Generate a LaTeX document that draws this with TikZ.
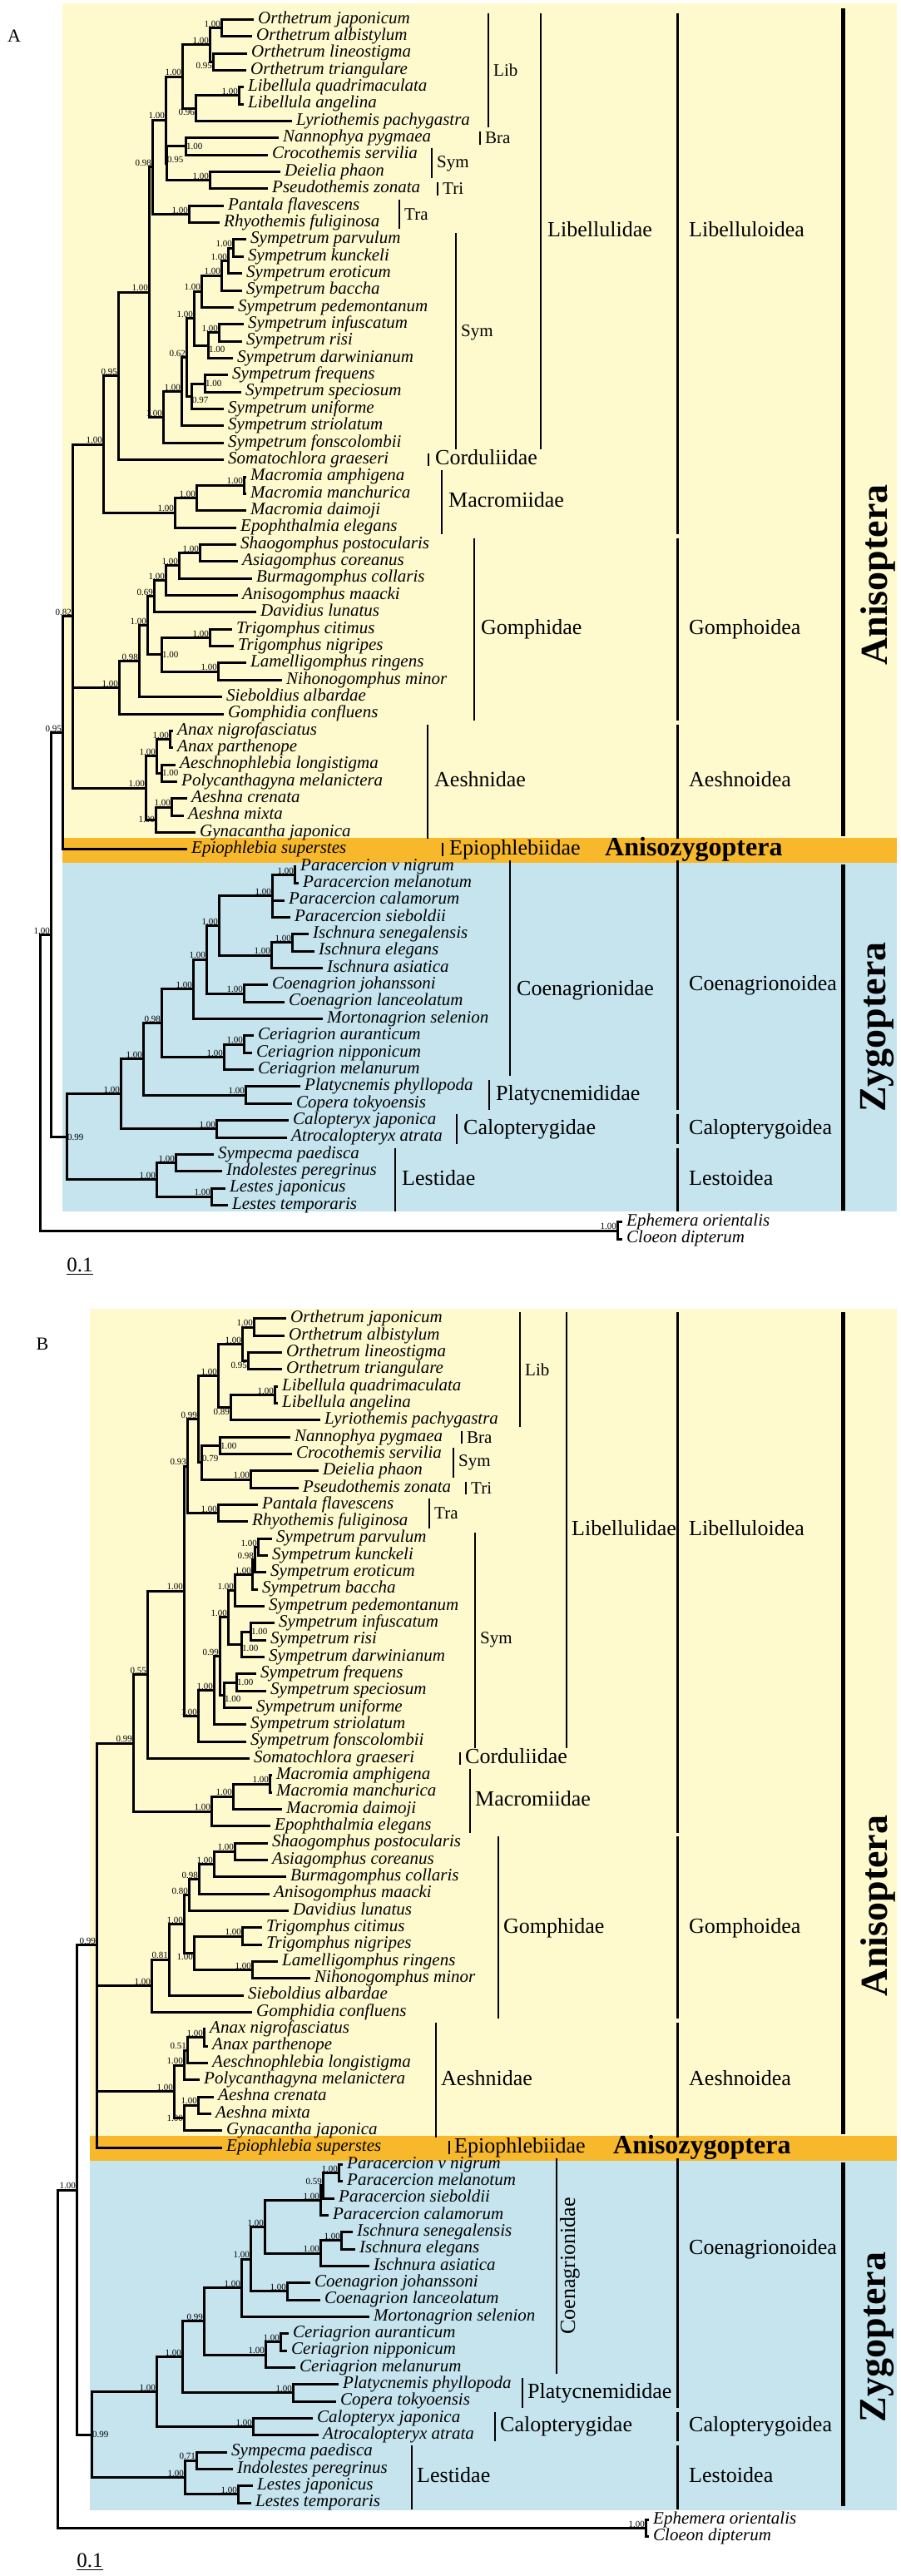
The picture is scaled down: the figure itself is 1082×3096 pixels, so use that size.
\documentclass[tikz,border=0pt]{standalone}
\usepackage{fontspec}
\setmainfont{Liberation Serif}
\definecolor{cream}{RGB}{255,250,206}
\definecolor{amber}{RGB}{247,184,44}
\definecolor{skyblue}{RGB}{197,228,238}
\tikzset{branch/.style = {line width = 3pt}}
\tikzset{taxon/.style = {anchor = west, inner xsep = 5pt, inner ysep = 0pt,
                         font = \fontsize{21}{21}\selectfont\itshape,
                         text height = 14pt, text depth = 4.5pt}}
\tikzset{prob/.style = {inner sep = 1pt, font = \fontsize{11}{11}\selectfont}}
\tikzset{fam/.style = {anchor = west, inner sep = 0pt, font = \fontsize{26}{26}\selectfont,
                       text height = 18pt, text depth = 5.5pt}}
\tikzset{sub/.style = {anchor = west, inner sep = 0pt, font = \fontsize{21}{21}\selectfont}}
\tikzset{famline/.style = {line width = 2pt}}
\tikzset{supline/.style = {line width = 3pt}}
\tikzset{bigline/.style = {line width = 5pt}}
\tikzset{big/.style = {rotate = 90, anchor = north, inner sep = 0pt,
                       font = \fontsize{46}{46}\selectfont\bfseries}}
\tikzset{bandtext/.style = {anchor = west, inner sep = 0pt,
                            font = \fontsize{32}{32}\selectfont\bfseries}}
\newcommand{\commonedges}{oj/1, oj/2, ol/3, ol/4, or/oj, or/ol, ll/5, ll/6, ly/ll, ly/7,
  lb/or, lb/ly, nc/8, nc/9, dp/10, dp/11, bs/nc, bs/dp, lt/lb, lt/bs, tr/12, tr/13,
  ld/lt, ld/tr, pk/14, pk/15, pe/pk, pe/16, pb/pe, pb/17, pp/pb, pp/18, ir/19, ir/20,
  id/ir, id/21, up/pp, up/id, fs/22, fs/23, fu/fs, fu/24, sx/up, sx/fu, st/sx, st/25,
  fo/st, fo/26, li/ld, li/fo, co/li, co/27, mm/28, mm/29, md/mm, md/30, ma/md, ma/31,
  ls/co, ls/ma, sa/32, sa/33, sb/sa, sb/34, sc/sb, sc/35, sd/sc, sd/36, tt/37, tt/38,
  lm/39, lm/40, tl/tt, tl/lm, ga/sd, ga/tl, gb/ga, gb/41, gp/gb, gp/42, ax/43, ax/44,
  am/47, am/48, ag/am, ag/49, vm/51, vm/52, is/55, is/56, ia/is, ia/57, pi/pa, pi/ia,
  cj/58, cj/59, pj/pi, pj/cj, pq/pj, pq/60, ca/61, ca/62, ce/ca, ce/63, cn/pq, cn/ce,
  pl/64, pl/65, cp/cn, cp/pl, cl/66, cl/67, cc/cp, cc/cl, si/68, si/69, lj/70, lj/71,
  le/si, le/lj, zy/cc, zy/le, og/72, og/73, rt/in, rt/og}

\begin{document}
\begin{tikzpicture}[x = 1pt, y = -1pt]
    \useasboundingbox (0, 0) rectangle (1082, 3096);

    \node [font = \fontsize{22}{22}\selectfont] (labelA) at (17, 43) {A};
    \node [font = \fontsize{22}{22}\selectfont] (labelB) at (51, 1615) {B};

    \begin{scope}[yshift = -2.94pt, y = -20.36pt]
      \fill [cream] (75, 0.05) rectangle (1078, 49.3);
      \fill [amber] (75, 49.3) rectangle (1078, 50.8);
      \fill [skyblue] (75, 50.8) rectangle (1078, 71.37);

      \foreach \r/\x/\t in {1/305/Orthetrum japonicum, 2/303/Orthetrum albistylum,
          3/297/Orthetrum lineostigma, 4/296/Orthetrum triangulare,
          5/293/Libellula quadrimaculata, 6/293/Libellula angelina,
          7/351/Lyriothemis pachygastra, 8/335/Nannophya pygmaea,
          9/322/Crocothemis servilia, 10/337/Deielia phaon, 11/322/Pseudothemis zonata,
          12/269/Pantala flavescens, 13/264/Rhyothemis fuliginosa,
          14/296/Sympetrum parvulum, 15/293/Sympetrum kunckeli, 16/291/Sympetrum eroticum,
          17/291/Sympetrum baccha, 18/281/Sympetrum pedemontanum,
          19/293/Sympetrum infuscatum, 20/291/Sympetrum risi, 21/280/Sympetrum darwinianum,
          22/274/Sympetrum frequens, 23/290/Sympetrum speciosum, 24/269/Sympetrum uniforme,
          25/269/Sympetrum striolatum, 26/269/Sympetrum fonscolombii,
          27/269/Somatochlora graeseri, 28/296/Macromia amphigena,
          29/296/Macromia manchurica, 30/296/Macromia daimoji, 31/284/Epophthalmia elegans,
          32/284/Shaogomphus postocularis, 33/286/Asiagomphus coreanus,
          34/303/Burmagomphus collaris, 35/286/Anisogomphus maacki, 36/308/Davidius lunatus,
          37/279/Trigomphus citimus, 38/281/Trigomphus nigripes,
          39/296/Lamelligomphus ringens, 40/339/Nihonogomphus minor,
          41/267/Sieboldius albardae, 42/269/Gomphidia confluens,
          43/208/Anax nigrofasciatus, 44/208/Anax parthenope,
          45/211/Aeschnophlebia longistigma, 46/213/Polycanthagyna melanictera,
          47/225/Aeshna crenata, 48/221/Aeshna mixta, 49/235/Gynacantha japonica,
          50/225/Epiophlebia superstes, 51/356/Paracercion v nigrum,
          52/359/Paracercion melanotum, 53/342/Paracercion calamorum,
          54/349/Paracercion sieboldii, 55/371/Ischnura senegalensis,
          56/378/Ischnura elegans, 57/388/Ischnura asiatica, 58/322/Coenagrion johanssoni,
          59/342/Coenagrion lanceolatum, 60/388/Mortonagrion selenion,
          61/305/Ceriagrion auranticum, 62/303/Ceriagrion nipponicum,
          63/305/Ceriagrion melanurum, 64/361/Platycnemis phyllopoda,
          65/351/Copera tokyoensis, 66/347/Calopteryx japonica,
          67/345/Atrocalopteryx atrata, 68/257/Sympecma paedisca,
          69/267/Indolestes peregrinus, 70/271/Lestes japonicus, 71/274/Lestes temporaris,
          72/748/Ephemera orientalis, 73/748/Cloeon dipterum}
        \node [taxon] (a\r) at (\x, \r) {\t};

      \foreach \n/\x/\r/\v/\an in {oj/266/1.5/1.00/south east, ol/256/3.5/0.95/north east,
          or/252/2.5/1.00/south east, ll/287/5.5/1.00/south east,
          ly/235/6.25/0.96/north east, lb/219/4.375/1.00/south east,
          nc/223/8.5/1.00/west, dp/252/10.5/1.00/south east, bs/200/9.5/0.95/south west,
          lt/199/6.9375/1.00/south east, tr/227/12.5/1.00/south east,
          ld/183/9.71875/0.98/south east, pk/280/14.5/1.00/south east,
          pe/274/15.25/1.00/south east, pb/266/16.125/1.00/south east,
          pp/242/17.0625/1.00/south east, ir/263/19.5/1.00/south east,
          id/250/20.25/1.00/north west, up/233/18.65625/1.00/south east,
          fs/246/22.5/1.00/west, fu/230/23.25/0.97/north west,
          sx/224/20.953/0.62/south east, st/218/22.977/1.00/south east,
          fo/196/24.488/1.00/south east, li/179/17.104/1.00/south east,
          co/142/22.052/0.95/south east, mm/293/28.5/1.00/south east,
          md/236/29.25/1.00/south east, ma/210/30.125/1.00/south east,
          ls/124/26.089/1.00/south east, sa/240/32.5/1.00/south east,
          sb/215/33.25/1.00/south east, sc/199/34.125/1.00/south east,
          sd/185/35.0625/0.69/south east, tt/252/37.5/1.00/south east,
          lm/262/39.5/1.00/south east, tl/194/38.5/1.00/west,
          ga/177/36.781/1.00/south east, gb/167/38.891/0.98/south east,
          gp/143/40.445/1.00/south east, ax/204/43.5/1.00/south east,
          ap/194/45.5/1.00/west, aa/188/44.5/1.00/south east,
          am/206/47.5/1.00/south east, ag/187/48.25/1.00/east,
          ae/175/46.375/1.00/south east, an/87/36.232/0.82/south east,
          az/75/43.116/0.95/south east, vm/354/51.5/1.00/south east,
          pa/327/52.75/1.00/south east, is/351/55.5/1.00/south east,
          ia/326/56.25/1.00/south east, pi/263/54.5/1.00/south east,
          cj/293/58.5/1.00/south east, pj/248/56.5/1.00/south east,
          pq/232/58.25/1.00/south east, ca/293/61.5/1.00/south east,
          ce/269/62.25/1.00/south east, cn/194/60.25/0.98/south east,
          pl/295/64.5/1.00/south east, cp/172/62.375/1.00/south east,
          cl/260/66.5/1.00/south east, cc/145/64.4375/1.00/south east,
          si/211/68.5/1.00/south east, lj/254/70.5/1.00/south east,
          le/188/69.5/1.00/south east, zy/80/66.969/0.99/west,
          in/61/55.04/1.00/south east, og/742/72.5/1.00/south east}
        {
          \coordinate (a\n) at (\x, \r);
          \node [prob, anchor = \an] (la\n) at (a\n) {\v};
        }
      \coordinate (art) at (48, 63.77);

      \foreach \p/\c in \commonedges
        \draw [branch] (a\p) |- (a\c);
      \foreach \p/\c in {ap/45, ap/46, aa/ax, aa/ap, ae/aa, ae/ag, an/ls, an/gp, an/ae,
          az/an, az/50, pa/vm, pa/53, pa/54, in/az, in/zy}
        \draw [branch] (a\p) |- (a\c);

      \foreach \x/\ra/\rb/\rt/\t [count = \i] in {587/1/7/4/Lib, 577/8/8/8/Bra,
          519/9/10/9.5/Sym, 526/11/11/11/Tri, 480/12/13/12.5/Tra, 548/14/26/19.5/Sym}
        {
          \draw [famline] (\x, \ra - 0.38) -- (\x, \rb + 0.38);
          \node [sub] (subA\i) at (\x + 6, \rt) {\t};
        }
      \foreach \x/\ra/\rb/\rt/\t [count = \i] in {650/1/26/13.5/Libellulidae,
          515/27/27/27/Corduliidae, 531/28/31/29.5/Macromiidae, 570/32/42/37/Gomphidae,
          514/43/49/46/Aeshnidae, 532/50/50/50/Epiophlebiidae,
          613/51/63/58.3/Coenagrionidae, 588/64/65/64.5/Platycnemididae,
          549/66/67/66.5/Calopterygidae, 475/68/71/69.5/Lestidae}
        {
          \draw [famline] (\x, \ra - 0.38) -- (\x, \rb + 0.38);
          \node [fam] (famA\i) at (\x + 8, \rt) {\t};
        }
      \foreach \ra/\rb/\rt/\t [count = \i] in {1/31/13.5/Libelluloidea,
          32/42/37/Gomphoidea, 43/49/46/Aeshnoidea, 51/65/58/Coenagrionoidea,
          66/67/66.5/Calopterygoidea, 68/71/69.5/Lestoidea}
        {
          \draw [supline] (814, \ra - 0.38) -- (814, \rb + 0.38);
          \node [fam] (supA\i) at (828, \rt) {\t};
        }

      \draw [bigline] (1013, 0.35) -- (1013, 49.2);
      \draw [bigline] (1013, 50.9) -- (1013, 71.3);
      \node [big] (anisA) at (1034, 33.8) {Anisoptera};
      \node [big] (zygA) at (1034, 60.5) {Zygoptera};
      \node [bandtext] (azA) at (727, 50) {Anisozygoptera};
    \end{scope}

    \node [font = \fontsize{25}{25}\selectfont, inner sep = 0pt] (scaleA) at (96, 1520) {0.1};
    \draw [line width = 1.5pt] ([yshift = -3pt]scaleA.south west) -- ([yshift = -3pt]scaleA.south east);

    \begin{scope}[yshift = -1564.6pt, y = -20.33pt]
      \fill [cream] (108, 0.41) rectangle (1078, 49.3);
      \fill [amber] (108, 49.3) rectangle (1078, 50.8);
      \fill [skyblue] (108, 50.8) rectangle (1078, 71.45);

      \foreach \r/\x/\t in {1/344/Orthetrum japonicum, 2/342/Orthetrum albistylum,
          3/339/Orthetrum lineostigma, 4/339/Orthetrum triangulare,
          5/334/Libellula quadrimaculata, 6/334/Libellula angelina,
          7/385/Lyriothemis pachygastra, 8/349/Nannophya pygmaea,
          9/351/Crocothemis servilia, 10/383/Deielia phaon, 11/359/Pseudothemis zonata,
          12/310/Pantala flavescens, 13/298/Rhyothemis fuliginosa,
          14/327/Sympetrum parvulum, 15/322/Sympetrum kunckeli, 16/320/Sympetrum eroticum,
          17/310/Sympetrum baccha, 18/318/Sympetrum pedemontanum,
          19/330/Sympetrum infuscatum, 20/320/Sympetrum risi, 21/318/Sympetrum darwinianum,
          22/308/Sympetrum frequens, 23/320/Sympetrum speciosum, 24/303/Sympetrum uniforme,
          25/296/Sympetrum striolatum, 26/296/Sympetrum fonscolombii,
          27/300/Somatochlora graeseri, 28/327/Macromia amphigena,
          29/327/Macromia manchurica, 30/339/Macromia daimoji, 31/325/Epophthalmia elegans,
          32/322/Shaogomphus postocularis, 33/322/Asiagomphus coreanus,
          34/344/Burmagomphus collaris, 35/324/Anisogomphus maacki, 36/347/Davidius lunatus,
          37/315/Trigomphus citimus, 38/315/Trigomphus nigripes,
          39/334/Lamelligomphus ringens, 40/373/Nihonogomphus minor,
          41/293/Sieboldius albardae, 42/303/Gomphidia confluens,
          43/247/Anax nigrofasciatus, 44/250/Anax parthenope,
          45/250/Aeschnophlebia longistigma, 46/240/Polycanthagyna melanictera,
          47/257/Aeshna crenata, 48/254/Aeshna mixta, 49/267/Gynacantha japonica,
          50/267/Epiophlebia superstes, 51/412/Paracercion v nigrum,
          52/412/Paracercion melanotum, 53/402/Paracercion sieboldii,
          54/395/Paracercion calamorum, 55/424/Ischnura senegalensis,
          56/427/Ischnura elegans, 57/444/Ischnura asiatica, 58/373/Coenagrion johanssoni,
          59/385/Coenagrion lanceolatum, 60/444/Mortonagrion selenion,
          61/347/Ceriagrion auranticum, 62/345/Ceriagrion nipponicum,
          63/355/Ceriagrion melanurum, 64/407/Platycnemis phyllopoda,
          65/404/Copera tokyoensis, 66/376/Calopteryx japonica,
          67/383/Atrocalopteryx atrata, 68/273/Sympecma paedisca,
          69/280/Indolestes peregrinus, 70/304/Lestes japonicus, 71/302/Lestes temporaris,
          72/780/Ephemera orientalis, 73/780/Cloeon dipterum}
        \node [taxon] (b\r) at (\x, \r) {\t};

      \foreach \n/\x/\r/\v/\an in {oj/305/1.5/1.00/south east, ol/298/3.5/0.95/north east,
          or/291/2.5/1.00/south east, ll/330/5.5/1.00/south east,
          ly/277/6.25/0.89/north east, lb/262/4.375/1.00/south east,
          nc/264/8.5/1.00/west, dp/301/10.5/1.00/south east, bs/242/9.5/0.79/south west,
          lt/238/6.9375/0.99/south east, tr/262/12.5/1.00/south east,
          ld/225/9.71875/0.93/south east, pk/310/14.5/1.00/south east,
          pe/306/15.25/0.98/south east, pb/303/16.125/1.00/south east,
          pp/282/17.0625/1.00/south east, ir/301/19.5/1.00/west,
          id/290/20.25/1.00/north west, up/274/18.65625/1.00/south east,
          fs/284/22.5/1.00/west, fu/269/23.25/1.00/north west,
          sx/264/20.953/0.99/south east, st/257/22.977/1.00/south east,
          fo/238/24.488/1.00/south east, li/221/17.104/1.00/south east,
          co/177/22.052/0.55/south east, mm/324/28.5/1.00/south east,
          md/280/29.25/1.00/south east, ma/254/30.125/1.00/south east,
          ls/160/26.089/0.99/south east, sa/282/32.5/1.00/south east,
          sb/257/33.25/1.00/south east, sc/239/34.125/0.98/south east,
          sd/227/35.0625/0.80/south east, tt/291/37.5/1.00/south east,
          lm/303/39.5/1.00/south east, tl/233/38.5/1.00/north east,
          ga/221/36.781/1.00/south east, gb/203/38.891/0.81/south east,
          gp/182/40.445/1.00/south east, ax/245/43.5/1.00/south east,
          aa/225/44.25/0.51/south east, ap/221/45.125/1.00/south east,
          am/238/47.5/1.00/south east, ag/221/48.25/1.00/east,
          ae/209/46.6875/1.00/south east, an/116/38.04/0.99/south east,
          vm/407/51.5/1.00/south east, vs/388/52.25/0.59/south east,
          pa/385/53.125/1.00/south east, is/410/55.5/1.00/south east,
          ia/385/56.25/1.00/south east, pi/318/54.6875/1.00/south east,
          cj/345/58.5/1.00/south east, pj/301/56.594/1.00/south east,
          pq/290/58.297/1.00/south east, ca/337/61.5/1.00/south east,
          ce/319/62.25/1.00/south east, cn/245/60.27/0.99/south east,
          pl/352/64.5/1.00/south east, cp/219/62.387/1.00/south east,
          cl/304/66.5/1.00/south east, cc/188/64.44/1.00/south east,
          si/236/68.5/0.71/south east, lj/286/70.5/1.00/south east,
          le/222/69.5/1.00/south east, zy/110/66.97/0.99/west,
          in/92/52.51/1.00/south east, og/776/72.5/1.00/south east}
        {
          \coordinate (b\n) at (\x, \r);
          \node [prob, anchor = \an] (lb\n) at (b\n) {\v};
        }
      \coordinate (brt) at (69, 62.5);

      \foreach \p/\c in \commonedges
        \draw [branch] (b\p) |- (b\c);
      \foreach \p/\c in {aa/ax, aa/45, ap/aa, ap/46, ae/ap, ae/ag, an/ls, an/gp, an/ae,
          an/50, vs/vm, vs/53, pa/vs, pa/54, in/an, in/zy}
        \draw [branch] (b\p) |- (b\c);

      \foreach \x/\ra/\rb/\rt/\t [count = \i] in {625/1/7/4/Lib, 555/8/8/8/Bra,
          545/9/10/9.5/Sym, 560/11/11/11/Tri, 516/12/13/12.5/Tra, 571/14/26/20/Sym}
        {
          \draw [famline] (\x, \ra - 0.38) -- (\x, \rb + 0.38);
          \node [sub] (subB\i) at (\x + 6, \rt) {\t};
        }
      \foreach \x/\ra/\rb/\rt/\t [count = \i] in {681/1/26/13.5/Libellulidae,
          553/27/27/27/Corduliidae, 565/28/31/29.5/Macromiidae, 599/32/42/37/Gomphidae,
          524/43/49/46/Aeshnidae, 540/50/50/50/Epiophlebiidae,
          628/64/65/64.5/Platycnemididae, 595/66/67/66.5/Calopterygidae,
          495/68/71/69.5/Lestidae}
        {
          \draw [famline] (\x, \ra - 0.38) -- (\x, \rb + 0.38);
          \node [fam] (famB\i) at (\x + 6, \rt) {\t};
        }
      \draw [famline] (669, 50.62) -- (669, 63.38);
      \node [fam, rotate = 90, anchor = north] (coenB) at (673, 57) {Coenagrionidae};
      \foreach \ra/\rb/\rt/\t [count = \i] in {1/31/13.5/Libelluloidea,
          32/42/37/Gomphoidea, 43/49/46/Aeshnoidea, 51/65/56/Coenagrionoidea,
          66/67/66.5/Calopterygoidea, 68/71/69.5/Lestoidea}
        {
          \draw [supline] (814, \ra - 0.38) -- (814, \rb + 0.38);
          \node [fam] (supB\i) at (828, \rt) {\t};
        }

      \draw [bigline] (1013, 0.6) -- (1013, 49.2);
      \draw [bigline] (1013, 50.9) -- (1013, 71.2);
      \node [big] (anisB) at (1034, 35.7) {Anisoptera};
      \node [big] (zygB) at (1034, 61.2) {Zygoptera};
      \node [bandtext] (azB) at (737, 50) {Anisozygoptera};
    \end{scope}

    \node [font = \fontsize{25}{25}\selectfont, inner sep = 0pt] (scaleB) at (108, 3077) {0.1};
    \draw [line width = 1.5pt] ([yshift = -3pt]scaleB.south west) -- ([yshift = -3pt]scaleB.south east);
  \end{tikzpicture}
\end{document}
